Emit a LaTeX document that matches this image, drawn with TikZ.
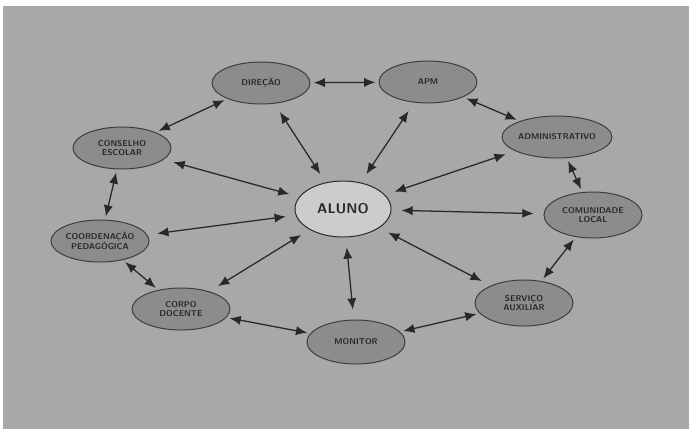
\documentclass[tikz,border=0pt]{standalone}
\usepackage{xcolor}
\usepackage{tikz}
\usetikzlibrary{shapes.geometric,arrows.meta}

\definecolor{paper}{RGB}{168,168,166}
\definecolor{bubble}{RGB}{140,140,139}
\definecolor{ink}{RGB}{40,40,40}

\begin{document}
\begin{tikzpicture}[x=0.025cm,y=-0.025cm,
	sector/.style={ellipse, draw=ink!90, line width=0.7pt, fill=bubble, text=ink,
		minimum width=2.45cm, minimum height=1.05cm, inner sep=0pt, align=center,
		font=\fontsize{6}{7}\selectfont\sffamily\bfseries},
	link/.style={{Latex[length=2.8mm,width=2.3mm]}-{Latex[length=2.8mm,width=2.3mm]}, draw=ink, line width=0.9pt},
	spoke/.style={link, shorten <=0.25cm, shorten >=0.25cm},
	ring/.style={link, shorten <=0.08cm, shorten >=0.08cm}]
\fill[white] (0,0) rectangle (689,429);
\fill[paper] (3,6) rectangle (689,429);
\node[ellipse, draw=ink, line width=0.7pt, fill=gray!40, text=ink, minimum width=2.4cm, minimum height=1.4cm,
	font=\fontsize{10}{12}\selectfont\sffamily\bfseries] (aluno) at (343,209) {ALUNO};
\node[sector] (dir) at (261,83) {DIREÇÃO};
\node[sector] (apm) at (428,82) {APM};
\node[sector] (adm) at (557,137) {ADMINISTRATIVO};
\node[sector, minimum height=1.15cm] (com) at (593,215) {COMUNIDADE\\LOCAL};
\node[sector, minimum height=1.15cm] (serv) at (524,303) {SERVIÇO\\AUXILIAR};
\node[sector, minimum height=1.1cm] (mon) at (356,342) {MONITOR};
\node[sector] (corpo) at (181,309) {CORPO\\DOCENTE};
\node[sector] (coord) at (100,241) {COORDENAÇÃO\\PEDAGÓGICA};
\node[sector] (cons) at (122,148) {CONSELHO\\ESCOLAR};

\draw[ring] (dir) -- (apm);
\draw[ring] (apm) -- (adm);
\draw[ring] (adm) -- (com);
\draw[ring] (com) -- (serv);
\draw[ring] (serv) -- (mon);
\draw[ring] (mon) -- (corpo);
\draw[ring] (corpo) -- (coord);
\draw[ring] (coord) -- (cons);
\draw[ring] (cons) -- (dir);

\foreach \n in {dir,apm,adm,com,serv,mon,corpo,coord,cons}
	\draw[spoke] (aluno) -- (\n);
\end{tikzpicture}
\end{document}
